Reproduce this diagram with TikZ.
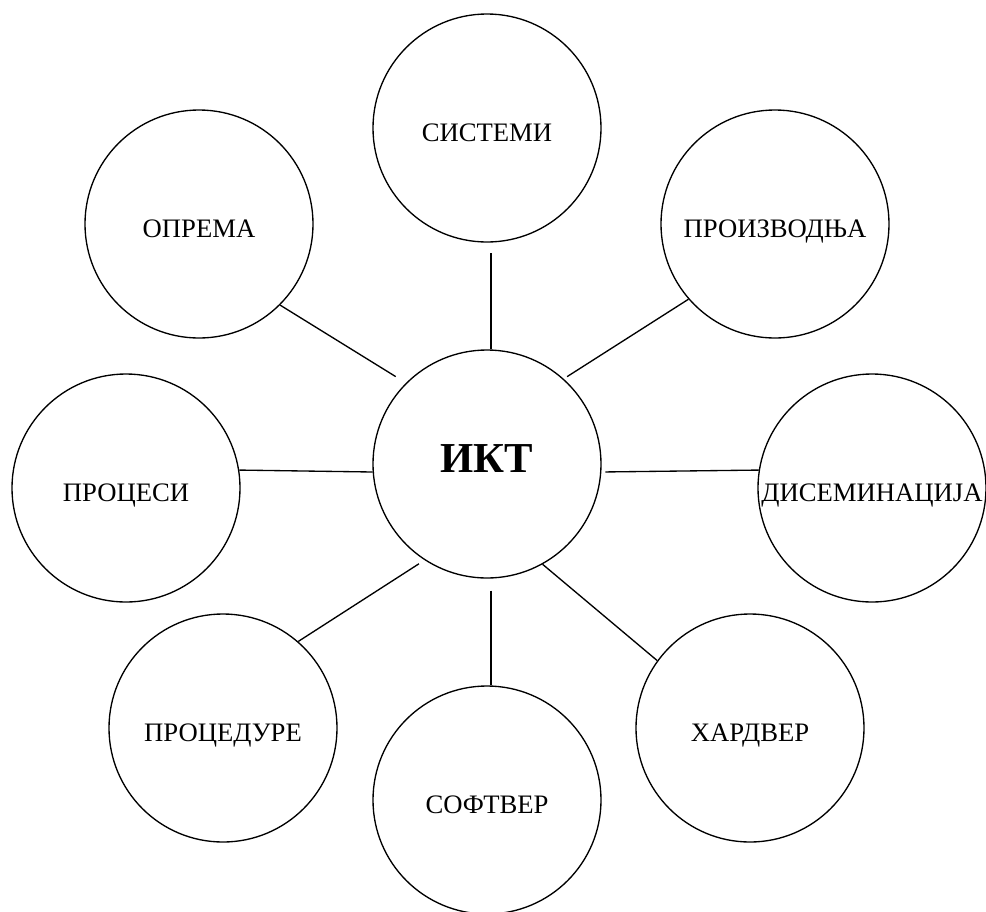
\documentclass[tikz,border=0pt]{standalone}
\usepackage{fontspec}
\setmainfont{Liberation Serif}

\tikzset{
  bubble/.style={draw, circle, line width=1pt, minimum size=171pt, inner sep=0pt,
    text height=21pt, text depth=1.4pt, font=\fontsize{20}{24}\selectfont},
  hub/.style={bubble, text height=22pt, text depth=9.8pt,
    font=\fontsize{32}{38}\selectfont\bfseries},
  link/.style={line width=1pt}
}

\begin{document}
\begin{tikzpicture}[x=0.75pt, y=-0.75pt]
  \useasboundingbox (0, 0) rectangle (986, 911);

  % Draw the centre
  \node[hub] (ikt) at (487, 464) {ИКТ};

  % Draw the outer circles
  \node[bubble] (sys) at (487, 128) {СИСТЕМИ};
  \node[bubble] (opr) at (199, 224) {ОПРЕМА};
  \node[bubble] (pro) at (775, 224) {ПРОИЗВОДЊА};
  \node[bubble] (prc) at (126, 488) {ПРОЦЕСИ};
  \node[bubble] (dis) at (872, 488) {ДИСЕМИНАЦИЈА};
  \node[bubble] (prd) at (223, 728) {ПРОЦЕДУРЕ};
  \node[bubble] (sof) at (487, 800) {СОФТВЕР};
  \node[bubble] (har) at (750, 728) {ХАРДВЕР};

  % Draw the links
  \draw[link, shorten >=7.5pt] (ikt.88) -- (sys.272);
  \draw[link, shorten <=9pt] (ikt.135) -- (opr.-45);
  \draw[link, shorten <=3pt] (ikt.48) -- (pro.221);
  \draw[link] (ikt.184) -- (prc.9);
  \draw[link, shorten <=3pt] (ikt.-4) -- (dis.171);
  \draw[link, shorten <=5pt] (ikt.237) -- (prd.49);
  \draw[link, shorten <=9pt] (ikt.-88) -- (sof.88);
  \draw[link] (ikt.-61) -- (har.144);
\end{tikzpicture}
\end{document}
